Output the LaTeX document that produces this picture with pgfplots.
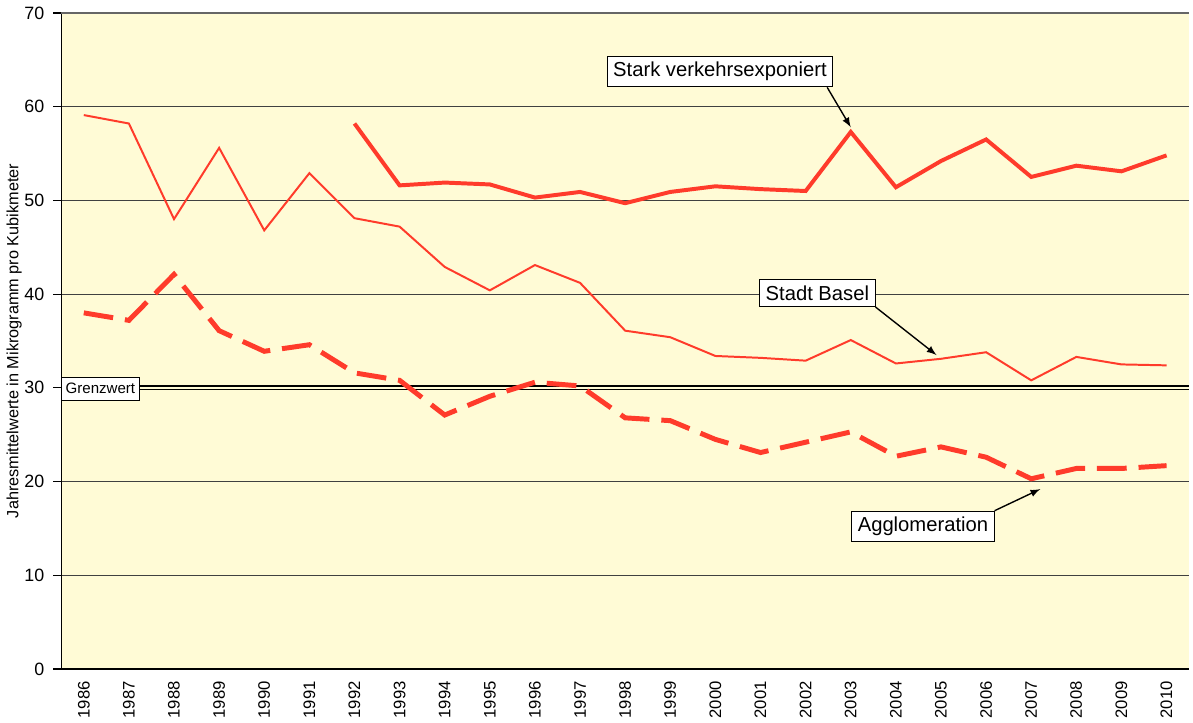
\documentclass[border=0pt]{standalone}
\usepackage{pgfplots}
\pgfplotsset{compat=1.18}
\usepackage{fontspec}
\setmainfont{Liberation Sans}
\definecolor{bg}{HTML}{FFFBD6}
\definecolor{ser}{HTML}{FF3B2B}
\begin{document}
\begin{tikzpicture}
\begin{axis}[
  scale only axis, width=569pt, height=331pt,
  xmin=1985.5, xmax=2010.5, ymin=0, ymax=70,
  axis background/.style={fill=bg},
  axis x line*=bottom, axis y line*=left,
  axis line style={black, line width=0.6pt},
  xtick={1986,...,2010},
  xticklabel style={rotate=90, anchor=east, font=\fontsize{8.4}{9}\selectfont, inner sep=2pt, /pgf/number format/1000 sep={}},
  extra x ticks={1985.5,1986.5,...,2010.5}, extra x tick labels={},
  extra x tick style={major tick length=4pt, tick style={black, line width=0.6pt}},
  major x tick style={draw=none},
  ytick={0,10,...,70},
  yticklabel style={font=\fontsize{9}{9}\selectfont, xshift=-1pt},
  ymajorgrids, grid style={black!75, line width=0.5pt},
  y tick style={black, line width=0.6pt}, major tick length=4pt, tick align=outside,
  ylabel={Jahresmittelwerte in Mikrogramm pro Kubikmeter},
  ylabel style={font=\fontsize{8.2}{9}\selectfont, yshift=-5.5pt},
  /pgf/number format/assume math mode=true,
  clip=false,
]
\draw[black!60, line width=0.6pt] (axis cs:1985.5,70) -- (axis cs:2010.5,70);
% Grenzwert
\addplot[black, line width=2.6pt] coordinates {(1985.5,30) (2010.5,30)};
\addplot[bg, line width=1pt] coordinates {(1985.5,30) (2010.5,30)};
% Stadt Basel
\addplot[ser, line width=1pt] coordinates {
(1986,59.1) (1987,58.2) (1988,48.0) (1989,55.6) (1990,46.8) (1991,52.9)
(1992,48.1) (1993,47.2) (1994,42.9) (1995,40.4) (1996,43.1) (1997,41.2)
(1998,36.1) (1999,35.4) (2000,33.4) (2001,33.2) (2002,32.9) (2003,35.1)
(2004,32.6) (2005,33.1) (2006,33.8) (2007,30.8) (2008,33.3) (2009,32.5) (2010,32.4)};
% Stark verkehrsexponiert
\addplot[ser, line width=2pt] coordinates {
(1992,58.2) (1993,51.6) (1994,51.9) (1995,51.7) (1996,50.3) (1997,50.9)
(1998,49.7) (1999,50.9) (2000,51.5) (2001,51.2) (2002,51.0) (2003,57.3)
(2004,51.4) (2005,54.2) (2006,56.5) (2007,52.5) (2008,53.7) (2009,53.1) (2010,54.8)};
% Agglomeration
\addplot[ser, line width=2.5pt, dash pattern=on 15pt off 6pt] coordinates {
(1986,38.0) (1987,37.2) (1988,42.1) (1989,36.1) (1990,33.9) (1991,34.6)
(1992,31.6) (1993,30.8) (1994,27.1) (1995,29.1) (1996,30.6) (1997,30.2)
(1998,26.8) (1999,26.5) (2000,24.5) (2001,23.1) (2002,24.2) (2003,25.3)
(2004,22.7) (2005,23.7) (2006,22.6) (2007,20.3) (2008,21.4) (2009,21.4) (2010,21.7)};
% labels
\node[draw=black, fill=white, inner sep=2pt, anchor=west, font=\fontsize{7.6}{8}\selectfont, line width=0.5pt, minimum height=11.5pt] at (axis cs:1985.5,29.9) {Grenzwert};
\node[draw=black, fill=white, inner sep=3pt, font=\fontsize{10.2}{11}\selectfont, line width=0.5pt, minimum height=15.5pt] (sv) at (axis cs:2000.1,63.75) {Stark verkehrsexponiert};
\draw[-latex, black, line width=0.7pt] ([xshift=-3pt]sv.south east) -- (axis cs:2003,57.8);
\node[draw=black, fill=white, inner sep=3pt, font=\fontsize{10.2}{11}\selectfont, line width=0.5pt, minimum height=13.5pt] (sb) at (axis cs:2002.26,40.1) {Stadt Basel};
\draw[-latex, black, line width=0.7pt] (sb.south east) -- (axis cs:2004.9,33.5);
\node[draw=black, fill=white, inner sep=3pt, font=\fontsize{10.2}{11}\selectfont, line width=0.5pt, minimum height=15.5pt] (ag) at (axis cs:2004.6,15.2) {Agglomeration};
\draw[-latex, black, line width=0.7pt] (ag.north east) -- (axis cs:2007.2,19.2);
\end{axis}
\end{tikzpicture}
\end{document}
